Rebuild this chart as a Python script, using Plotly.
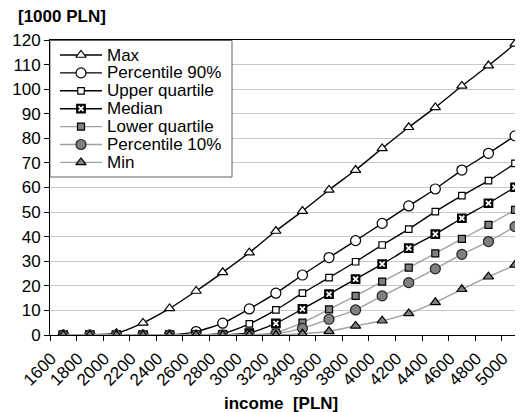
import plotly.graph_objects as go

income = ["1600", "1800", "2000", "2200", "2400", "2600", "2800", "3000", "3200",
          "3400", "3600", "3800", "4000", "4200", "4400", "4600", "4800", "5000"]

max_v = [0.0, 0.0, 0.7, 4.9, 10.8, 17.9, 25.5, 33.5, 42.3, 50.4, 59.0, 67.1, 75.9, 84.5, 92.6, 101.3, 109.6, 118.4]
p90_v = [0.0, 0.0, 0.0, 0.0, 0.0, 1.4, 4.8, 10.6, 17.0, 24.4, 31.5, 38.4, 45.4, 52.5, 59.4, 67.1, 73.9, 81.0]
uq_v = [0.0, 0.0, 0.0, 0.0, 0.0, 0.0, 0.6, 4.5, 10.2, 17.0, 23.3, 29.8, 36.6, 43.1, 50.2, 56.7, 62.8, 69.8]
med_v = [0.0, 0.0, 0.0, 0.0, 0.0, 0.0, 0.0, 0.8, 4.7, 10.6, 16.6, 22.7, 28.8, 35.3, 41.0, 47.5, 53.6, 60.1]
lq_v = [0.0, 0.0, 0.0, 0.0, 0.0, 0.0, 0.0, 0.0, 1.0, 5.0, 10.4, 15.9, 21.7, 27.4, 33.2, 39.1, 44.8, 50.9]
p10_v = [0.0, 0.0, 0.0, 0.0, 0.0, 0.0, 0.0, 0.0, 0.5, 2.7, 6.4, 10.2, 15.9, 21.3, 26.9, 32.8, 38.0, 44.1]
min_v = [0.0, 0.0, 0.0, 0.0, 0.0, 0.0, 0.0, 0.0, 0.0, 0.5, 1.5, 3.7, 5.8, 8.8, 13.3, 18.6, 23.7, 28.5]

series_names = ["Max", "Percentile 90%", "Upper quartile", "Median",
                "Lower quartile", "Percentile 10%", "Min"]

FONT = "Liberation Sans, Arial, sans-serif"
BLACK = "#000000"
GRAY_LINE = "#a0a0a0"
GRAY_FILL = "#808080"

styles = [
    dict(line=BLACK, symbol="triangle-up", size=9, fill="white", mline=BLACK, overlay=None),
    dict(line=BLACK, symbol="circle", size=10, fill="white", mline=BLACK, overlay=None),
    dict(line=BLACK, symbol="square", size=6.5, fill="white", mline=BLACK, overlay=None),
    dict(line=BLACK, symbol="square", size=8.5, fill=BLACK, mline=BLACK,
         overlay=dict(symbol="x-thin", size=5, color="white", width=1.8)),
    dict(line=GRAY_LINE, symbol="square", size=7, fill=GRAY_FILL, mline=BLACK, overlay=None),
    dict(line=GRAY_LINE, symbol="circle", size=10, fill=GRAY_FILL, mline="#222222", overlay=None),
    dict(line=GRAY_LINE, symbol="triangle-up", size=9, fill=GRAY_FILL, mline=BLACK, overlay=None),
]

values = [max_v, p90_v, uq_v, med_v, lq_v, p10_v, min_v]

# page is offset by the browser's default 8px body margin
W, H = 515, 404
ML, MR, MT, MB = 42, 0, 32, 77
PW, PH = W - ML - MR, H - MT - MB


def marker_traces(x, y, st, **kw):
    out = [go.Scatter(
        x=x, y=y, mode="markers", showlegend=False, hoverinfo="skip",
        marker=dict(symbol=st["symbol"], size=st["size"], color=st["fill"],
                    line=dict(color=st["mline"], width=1.2)), **kw)]
    ov = st["overlay"]
    if ov:
        out.append(go.Scatter(
            x=x, y=y, mode="markers", showlegend=False, hoverinfo="skip",
            marker=dict(symbol=ov["symbol"], size=ov["size"], color=ov["color"],
                        line=dict(color=ov["color"], width=ov["width"])), **kw))
    return out


fig = go.Figure()
for name, vals, st in zip(series_names, values, styles):
    fig.add_trace(go.Scatter(
        x=income, y=vals, name=name, mode="lines", showlegend=False,
        line=dict(color=st["line"], width=1.4, shape="spline", smoothing=0.6),
    ))
    for tr in marker_traces(income, vals, st, name=name):
        fig.add_trace(tr)

# hand-built legend on a pixel-unit overlay axis (x2/y2 = px inside plot area)
LEG_W, LEG_H = 182, 137
ROW0, ROW_STEP = 15, 17.9
SAMPLE_X0, SAMPLE_X1, TEXT_X = 10, 52, 55

fig.add_trace(go.Scatter(
    x=[0, LEG_W, LEG_W, 0, 0], y=[0.5, 0.5, LEG_H, LEG_H, 0.5],
    xaxis="x2", yaxis="y2", mode="lines", fill="toself", fillcolor="white",
    line=dict(color="#606060", width=1), showlegend=False, hoverinfo="skip",
))
for i, (name, st) in enumerate(zip(series_names, styles)):
    ry = ROW0 + i * ROW_STEP
    fig.add_trace(go.Scatter(
        x=[SAMPLE_X0, SAMPLE_X1], y=[ry, ry], xaxis="x2", yaxis="y2",
        mode="lines", line=dict(color=st["line"], width=1.4),
        showlegend=False, hoverinfo="skip",
    ))
    for tr in marker_traces([(SAMPLE_X0 + SAMPLE_X1) / 2], [ry], st,
                            xaxis="x2", yaxis="y2"):
        fig.add_trace(tr)
    fig.add_annotation(
        text=name, xref="x2", yref="y2", x=TEXT_X, y=ry,
        xanchor="left", yanchor="middle", showarrow=False,
        font=dict(size=17, family=FONT, color="black"),
    )

fig.update_layout(
    width=W, height=H,
    margin=dict(l=ML, r=MR, t=MT, b=MB),
    paper_bgcolor="white", plot_bgcolor="white",
    font=dict(family=FONT, size=17, color="black"),
    showlegend=False,
    xaxis=dict(
        type="category", range=[-0.5, 17.3], automargin=False,
        showline=True, linecolor=BLACK, linewidth=1, mirror=True,
        ticks="outside", tickson="boundaries", ticklen=5, tickcolor=BLACK,
        tickangle=-45, tickfont=dict(size=17, family=FONT),
        ticklabelshift=-12, ticklabelstandoff=6,
        showgrid=False,
    ),
    yaxis=dict(
        range=[0, 120], dtick=10, automargin=False,
        showline=True, linecolor=BLACK, linewidth=1,
        ticks="outside", ticklen=5, tickcolor=BLACK,
        tickfont=dict(size=17, family=FONT),
        showgrid=True, gridcolor="#c8c8c8", gridwidth=1,
        zeroline=False,
    ),
    xaxis2=dict(overlaying="x", range=[0, PW], visible=False, fixedrange=True),
    yaxis2=dict(overlaying="y", range=[PH, 0], visible=False, fixedrange=True),
)

# axis titles (page coords minus 8px body offset)
fig.add_annotation(
    text="<b>[1000 PLN]</b>", xref="paper", yref="paper",
    x=(8 - ML) / PW, y=1 + (32 - 9) / PH, xanchor="left", yanchor="middle",
    showarrow=False, font=dict(size=17, family=FONT, color="black"),
)
fig.add_annotation(
    text="<b>income \u00a0[PLN]</b>", xref="paper", yref="paper",
    x=(273 - ML) / PW, y=-(395 - 327) / PH, xanchor="center", yanchor="middle",
    showarrow=False, font=dict(size=17, family=FONT, color="black"),
)

fig.write_html("out.html")
